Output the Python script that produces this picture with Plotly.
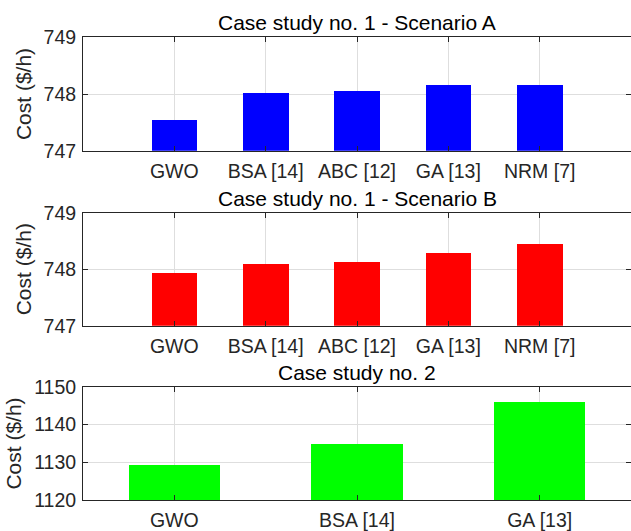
import plotly.graph_objects as go

# ---- data ----
methods_1 = ["GWO", "BSA [14]", "ABC [12]", "GA [13]", "NRM [7]"]
cost_1a = [747.54, 748.02, 748.05, 748.16, 748.16]
cost_1b = [747.93, 748.09, 748.14, 748.29, 748.45]
methods_2 = ["GWO", "BSA [14]", "GA [13]"]
cost_2 = [1129.4, 1135.0, 1145.9]
titles = ["Case study no. 1 - Scenario A", "Case study no. 1 - Scenario B", "Case study no. 2"]

W, H = 631, 531
FONT = "Liberation Sans, Arial, sans-serif"
AX = "#262626"
GRID = "#dedede"

def py(p):
    return 1 - p / H

# axes pixel boxes (top, bottom)
boxes = [(37.3, 150.7), (212.7, 325.7), (387.0, 500.0)]
x0 = 83.0 / W

fig = go.Figure()
xs1 = list(range(1, len(methods_1) + 1))
xs2 = list(range(1, len(methods_2) + 1))

fig.add_trace(go.Bar(x=xs1, y=cost_1a, marker=dict(color="#0000ff", line=dict(width=0)),
                     width=0.5, xaxis="x", yaxis="y"))
fig.add_trace(go.Bar(x=xs1, y=cost_1b, marker=dict(color="#ff0000", line=dict(width=0)),
                     width=0.5, xaxis="x2", yaxis="y2"))
fig.add_trace(go.Bar(x=xs2, y=cost_2, marker=dict(color="#00ff00", line=dict(width=0)),
                     width=0.5, xaxis="x3", yaxis="y3"))

TICK = 19.5
common_x = dict(showgrid=True, gridcolor=GRID, gridwidth=1, showline=True, linecolor=AX, linewidth=1,
                mirror="ticks", ticks="inside", ticklen=5, tickcolor=AX, zeroline=False, automargin=False,
                ticklabelstandoff=3,
                tickfont=dict(family=FONT, size=TICK, color=AX))
common_y = dict(showgrid=True, gridcolor=GRID, gridwidth=1, showline=True, linecolor=AX, linewidth=1,
                mirror="ticks", ticks="inside", ticklen=5, tickcolor=AX, zeroline=False, automargin=False,
                ticklabelstandoff=2,
                tickfont=dict(family=FONT, size=TICK, color=AX),
                title=dict(text="Cost ($/h)", font=dict(family=FONT, size=21, color=AX), standoff=6))

layout = dict(
    width=W, height=H, margin=dict(l=0, r=0, t=0, b=0, autoexpand=False),
    paper_bgcolor="white", plot_bgcolor="white", showlegend=False,
    bargap=0,
)
layout["xaxis"] = dict(common_x, domain=[x0, 1], range=[0, 6], tickvals=xs1, ticktext=methods_1, anchor="y")
layout["yaxis"] = dict(common_y, domain=[py(boxes[0][1]), py(boxes[0][0])], range=[747, 749],
                       tickvals=[747, 748, 749], anchor="x")
layout["xaxis2"] = dict(common_x, domain=[x0, 1], range=[0, 6], tickvals=xs1, ticktext=methods_1, anchor="y2")
layout["yaxis2"] = dict(common_y, domain=[py(boxes[1][1]), py(boxes[1][0])], range=[747, 749],
                        tickvals=[747, 748, 749], anchor="x2")
layout["xaxis3"] = dict(common_x, domain=[x0, 1], range=[0.5, 3.5], tickvals=xs2, ticktext=methods_2, anchor="y3")
layout["yaxis3"] = dict(common_y, domain=[py(boxes[2][1]), py(boxes[2][0])], range=[1120, 1150],
                        tickvals=[1120, 1130, 1140, 1150], anchor="x3")

annotations = []
for t, (top, bot) in zip(titles, boxes):
    annotations.append(dict(text=t, xref="paper", yref="paper", x=(x0 + 1) / 2, y=py(top - 14.5),
                            xanchor="center", yanchor="middle", showarrow=False,
                            font=dict(family=FONT, size=21, color="#000000")))
layout["annotations"] = annotations

fig.update_layout(**layout)
fig.write_html("out.html")
